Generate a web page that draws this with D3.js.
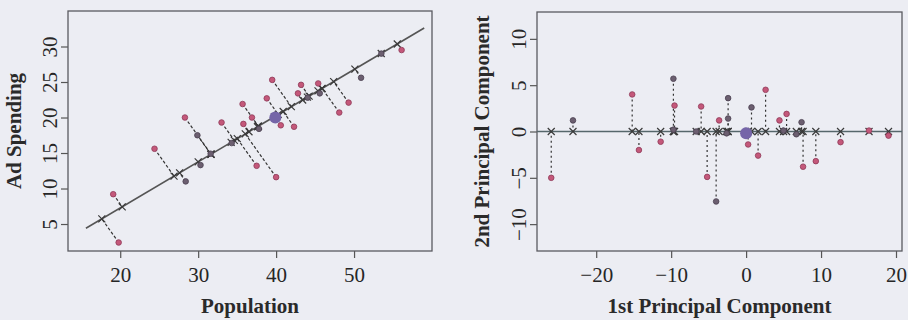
<!DOCTYPE html>
<html><head><meta charset="utf-8">
<script src="https://cdn.jsdelivr.net/npm/d3@7"></script>
<style>
html,body{margin:0;padding:0;background:#ecedf3;}
svg{display:block;}
</style></head>
<body>
<svg id="chart" width="908" height="320"></svg>
<script>
// ---- Left panel data (Population, Ad Spending) ----
const popValues = [19.1,19.8,24.4,28.3,28.4,29.9,30.3,31.6,33.0,34.3,35.7,35.8,36.9,37.5,37.8,38.8,39.5,40.0,40.6,42.3,42.8,43.2,44.05,45.4,45.6,48.1,49.3,50.9,53.5,56.1];
const adValues  = [9.2,2.4,15.6,20.0,11.0,17.5,13.3,14.9,19.3,16.4,21.9,19.1,20.0,13.2,18.4,22.7,25.3,11.6,18.9,18.7,23.4,24.6,22.8,24.8,23.4,20.7,22.1,25.6,29.0,29.5];
const leftGroup = ["p","p","p","p","d","d","d","d","p","d","p","p","p","p","d","p","p","p","p","p","p","p","d","p","d","p","p","d","d","p"];
const leftMean = [39.9, 20.0];
const leftLinePop = [15.6, 59.0];
const leftLineAd  = [4.4, 32.6];
const leftXTicks = [20,30,40,50];
const leftYTicks = [5,10,15,20,25,30];

// ---- Right panel data (1st PC, 2nd PC) ----
const pc1Values = [-26.0,-23.1,-15.2,-14.3,-11.4,-9.7,-9.55,-9.7,-6.66,-6.0,-5.2,-4.0,-3.6,-2.4,-2.4,-2.6,0.27,0.72,1.6,2.6,4.45,5.4,5.0,6.7,7.4,7.6,9.3,12.6,16.4,19.0];
const pc2Values = [-5.0,1.2,4.0,-2.0,-1.1,5.7,2.8,0.2,0.0,2.7,-4.9,-7.55,1.2,3.6,1.4,-0.2,-1.4,2.6,-2.6,4.5,1.2,1.9,0.1,-0.3,1.0,-3.8,-3.2,-1.15,0.1,-0.45];
const rightGroup = ["p","d","p","p","p","d","p","d","d","p","p","d","p","d","d","d","p","d","p","p","p","p","d","d","d","p","p","p","p","p"];
const rightMean = [0.0, -0.2];
const rightXTicks = [-20,-10,0,10,20];
const rightYTicks = [-10,-5,0,5,10];

// ---- styles ----
const FONT = "'Liberation Serif','Times New Roman',serif";
const colorOf = g => g === "p" ? "#c4587a" : "#6c5f70";
const strokeOf = g => g === "p" ? "#8e3a58" : "#4a4050";
const minus = v => String(v).replace("-", "\u2212");

const svg = d3.select("#chart");

function panel(opts){
  const {x, y, xTicks, yTicks, xTitle, yTitle, yTitleX} = opts;
  const g = svg.append("g");
  const [x0, x1] = x.range();
  const [y0, y1] = y.range();
  // x axis
  const ax = g.append("g").attr("transform", `translate(0,${y0})`)
    .call(d3.axisBottom(x).tickValues(xTicks).tickSize(7).tickFormat(minus));
  ax.select(".domain").remove();
  ax.selectAll("line").attr("stroke", "#555").attr("stroke-width", 1.2);
  ax.selectAll("text").attr("y", 31).attr("dy", 0)
    .attr("font-family", FONT).attr("font-size", 21).attr("fill", "#262626");
  // y axis
  const ay = g.append("g").attr("transform", `translate(${x0},0)`)
    .call(d3.axisLeft(y).tickValues(yTicks).tickSize(7).tickFormat(minus));
  ay.select(".domain").remove();
  ay.selectAll("line").attr("stroke", "#555").attr("stroke-width", 1.2);
  ay.selectAll("text").attr("x", null).attr("dy", 0)
    .attr("transform", "translate(-11,0) rotate(-90)")
    .attr("text-anchor", "middle")
    .attr("font-family", FONT).attr("font-size", 21).attr("fill", "#262626");
  // frame
  g.append("rect").attr("x", x0).attr("y", y1).attr("width", x1 - x0).attr("height", y0 - y1)
    .attr("fill", "none").attr("stroke", "#5a5a60").attr("stroke-width", 1.3);
  // titles
  g.append("text").attr("x", (x0 + x1) / 2).attr("y", 313).attr("text-anchor", "middle")
    .attr("font-family", FONT).attr("font-size", 21).attr("font-weight", "bold").attr("fill", "#2a2a2a")
    .text(xTitle);
  g.append("text").attr("transform", `translate(${yTitleX},${(y0 + y1) / 2}) rotate(-90)`)
    .attr("text-anchor", "middle")
    .attr("font-family", FONT).attr("font-size", 21).attr("font-weight", "bold").attr("fill", "#2a2a2a")
    .text(yTitle);
  return g;
}

function cross(g, px, py){
  const s = 3.5;
  g.append("path").attr("d", `M${px-s},${py-s}L${px+s},${py+s}M${px-s},${py+s}L${px+s},${py-s}`)
    .attr("stroke", "#3a3a3a").attr("stroke-width", 1.2).attr("fill", "none");
}

// ---------- Left panel ----------
{
  const x = d3.scaleLinear().domain([13.3, 60]).range([68, 432]);
  const y = d3.scaleLinear().domain([1.2, 35]).range([251, 11]);
  const g = panel({x, y, xTicks: leftXTicks, yTicks: leftYTicks, xTitle: "Population", yTitle: "Ad Spending", yTitleX: 21});
  const ax = leftLinePop[0], ay = leftLineAd[0];
  const dx = leftLinePop[1] - ax, dy = leftLineAd[1] - ay;
  const L2 = dx*dx + dy*dy;
  const proj = popValues.map((p, i) => {
    const t = ((p - ax)*dx + (adValues[i] - ay)*dy) / L2;
    return [ax + t*dx, ay + t*dy];
  });
  popValues.forEach((p, i) => {
    g.append("line").attr("x1", x(p)).attr("y1", y(adValues[i]))
      .attr("x2", x(proj[i][0])).attr("y2", y(proj[i][1]))
      .attr("stroke", "#333").attr("stroke-width", 1.2).attr("stroke-dasharray", "3,2");
  });
  g.append("line").attr("x1", x(leftLinePop[0])).attr("y1", y(leftLineAd[0]))
    .attr("x2", x(leftLinePop[1])).attr("y2", y(leftLineAd[1]))
    .attr("stroke", "#555").attr("stroke-width", 1.6);
  proj.forEach(q => cross(g, x(q[0]), y(q[1])));
  popValues.forEach((p, i) => {
    g.append("circle").attr("cx", x(p)).attr("cy", y(adValues[i])).attr("r", 2.8)
      .attr("fill", colorOf(leftGroup[i])).attr("stroke", strokeOf(leftGroup[i])).attr("stroke-width", 0.8);
  });
  g.append("circle").attr("cx", x(leftMean[0])).attr("cy", y(leftMean[1])).attr("r", 6)
    .attr("fill", "#7565a8");
}

// ---------- Right panel ----------
{
  const x = d3.scaleLinear().domain([-27.9, 20.8]).range([537, 902]);
  const y = d3.scaleLinear().domain([-12.9, 12.9]).range([251, 12]);
  const g = panel({x, y, xTicks: rightXTicks, yTicks: rightYTicks, xTitle: "1st Principal Component", yTitle: "2nd Principal Component", yTitleX: 489});
  pc1Values.forEach((p, i) => {
    g.append("line").attr("x1", x(p)).attr("y1", y(pc2Values[i]))
      .attr("x2", x(p)).attr("y2", y(0))
      .attr("stroke", "#333").attr("stroke-width", 1.2).attr("stroke-dasharray", "2,3");
  });
  g.append("line").attr("x1", x.range()[0]).attr("x2", x.range()[1])
    .attr("y1", y(0)).attr("y2", y(0))
    .attr("stroke", "#56676b").attr("stroke-width", 1.6);
  pc1Values.forEach(p => cross(g, x(p), y(0)));
  pc1Values.forEach((p, i) => {
    g.append("circle").attr("cx", x(p)).attr("cy", y(pc2Values[i])).attr("r", 2.8)
      .attr("fill", colorOf(rightGroup[i])).attr("stroke", strokeOf(rightGroup[i])).attr("stroke-width", 0.8);
  });
  g.append("circle").attr("cx", x(rightMean[0])).attr("cy", y(rightMean[1])).attr("r", 6)
    .attr("fill", "#7565a8");
}
</script>
</body></html>
